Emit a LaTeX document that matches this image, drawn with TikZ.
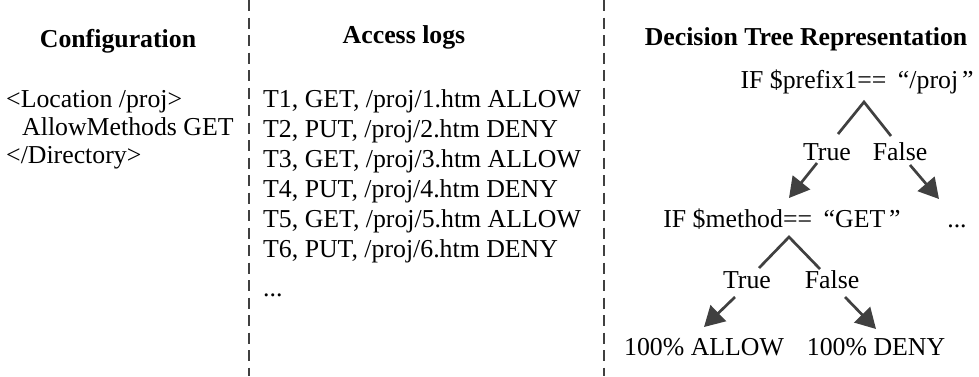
\documentclass[tikz,border=0pt]{standalone}
\usepackage{fontspec}
\setmainfont{Liberation Serif}
\usepackage{tikz}
\usetikzlibrary{arrows.meta}

\begin{document}
\begin{tikzpicture}
	[
		x=1pt, y=-1pt,
		every node/.style={inner sep=0pt, font=\fontsize{25.8}{30}\selectfont},
		head/.style={anchor=base, font=\fontsize{25.8}{30}\selectfont\bfseries},
		line/.style={anchor=base west},
		leaf/.style={anchor=base},
		divider/.style={draw=black!75, line width=2.3pt, dash pattern=on 11pt off 6.5pt},
		branch/.style={draw=black!75, line width=2.7pt},
		decision/.style={branch, -{Triangle[length=20pt,width=22pt]}}
	]
	
	% Fix the page size.
	\useasboundingbox (0,0) rectangle (979,376);
	
	% Draw column dividers.
	\draw[divider] (249,0) -- (249,376);
	\draw[divider] (604,0) -- (604,376);
	
	% Column headers.
	\node[head] (confhead) at (118,47) {Configuration};
	\node[head] (loghead) at (404,43) {Access logs};
	\node[head] (treehead) at (806,45) {Decision Tree Representation};
	
	% Configuration text.
	\node[line] (conf1) at (6,107) {<Location /proj>};
	\node[line] (conf2) at (6,135) {\hspace{16pt}AllowMethods GET};
	\node[line] (conf3) at (6,163) {</Directory>};
	
	% Access log entries.
	\foreach \i/\m/\r [evaluate=\i as \yy using 77+30*\i] in
		{1/GET/ALLOW, 2/PUT/DENY, 3/GET/ALLOW, 4/PUT/DENY, 5/GET/ALLOW, 6/PUT/DENY}
		\node[line] (log\i) at (263,\yy) {T\i, \m, /proj/\i.htm \r};
	\node[line] (logmore) at (263,296) {...};
	
	% First decision.
	\node[leaf] (rule1) at (857,88) {IF \$prefix1==\hspace{0.45em}“/proj\hspace{0.15em}”};
	\node[leaf] (true1) at (827,160) {True};
	\node[leaf] (false1) at (900,160) {False};
	\coordinate (apex1) at (864,102);
	\coordinate (lend1) at (838,134);
	\coordinate (rend1) at (891,136);
	\draw[branch] (lend1) -- (apex1) -- (rend1);
	\coordinate (tfrom1) at (817,163);
	\coordinate (tto1) at (789,198);
	\coordinate (ffrom1) at (910,165);
	\coordinate (fto1) at (939,199);
	\draw[decision] (tfrom1) -- (tto1);
	\draw[decision] (ffrom1) -- (fto1);
	
	% Second decision.
	\node[leaf] (rule2) at (782,227) {IF \$method==\hspace{0.45em}“GET\hspace{0.15em}”};
	\node[leaf] (more) at (957,227) {...};
	\node[leaf] (true2) at (747,288) {True};
	\node[leaf] (false2) at (832,288) {False};
	\coordinate (apex2) at (789,237);
	\coordinate (lend2) at (759,268);
	\coordinate (rend2) at (820,269);
	\draw[branch] (lend2) -- (apex2) -- (rend2);
	\coordinate (tfrom2) at (735,297);
	\coordinate (tto2) at (704,327);
	\coordinate (ffrom2) at (845,297);
	\coordinate (fto2) at (876,329);
	\draw[decision] (tfrom2) -- (tto2);
	\draw[decision] (ffrom2) -- (fto2);
	
	% Outcomes.
	\node[leaf] (allow) at (704,355) {100\% ALLOW};
	\node[leaf] (deny) at (876,355) {100\% DENY};
\end{tikzpicture}
\end{document}
